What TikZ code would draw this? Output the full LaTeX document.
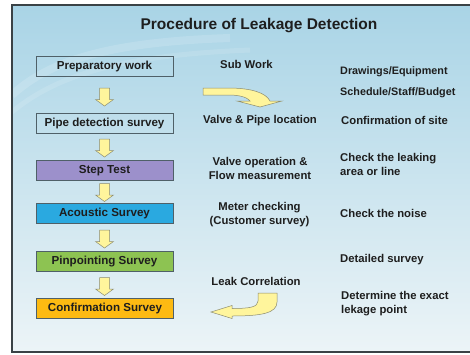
\documentclass[tikz,border=0pt]{standalone}
\usepackage{fontspec}
\setmainfont{Liberation Sans}

\definecolor{framegray}{HTML}{3A4246}
\definecolor{skytop}{HTML}{A9D4E6}
\definecolor{skybot}{HTML}{ECF4F7}
\definecolor{boxline}{HTML}{4F6068}
\definecolor{inktext}{HTML}{1E1E1E}
\definecolor{steppurple}{HTML}{9C90CB}
\definecolor{acousticblue}{HTML}{2AA9E0}
\definecolor{pinpointgreen}{HTML}{8DC352}
\definecolor{confirmorange}{HTML}{FDBA12}
\definecolor{arrowfill}{HTML}{FFF59C}
\definecolor{arrowline}{HTML}{8C8C70}

\tikzset{
  stage/.style={draw=boxline, line width=0.8pt, minimum width=137pt, minimum height=20pt,
    inner sep=0pt, font=\fontsize{11.6}{13}\selectfont\bfseries, text=inktext},
  note/.style={font=\fontsize{11.3}{14}\selectfont\bfseries, text=inktext, inner sep=0pt},
  smallnote/.style={note, font=\fontsize{10.8}{14}\selectfont\bfseries},
  blockarrow/.style={fill=arrowfill, draw=arrowline, line width=0.5pt},
  downblock/.pic={
    \filldraw[blockarrow] (-5,-9) -- (5,-9) -- (5,2.5) -- (9,2.5) -- (0,9) -- (-9,2.5) -- (-5,2.5) -- cycle;
  },
}

\begin{document}
\begin{tikzpicture}[x=1pt, y=-1pt]

\useasboundingbox (0,0) rectangle (470,354);

% background panel
\shade[top color=skytop, bottom color=skybot] (12,5) rectangle (478,352);
\draw[white, opacity=0.15, line width=8pt] (12,95) .. controls (50,60) and (110,42) .. (230,38);
\draw[white, opacity=0.12, line width=5pt] (12,112) .. controls (60,72) and (130,55) .. (250,50);
\draw[framegray, line width=1.5pt] (12,5) rectangle (478,352);

\draw (259, 26) node (title) [font=\fontsize{15.5}{17}\selectfont\bfseries, text=inktext]
  {Procedure of Leakage Detection};

% main steps
\draw (104.5, 66) node (prep) [stage] {Preparatory work};
\draw (104.5, 123.5) node (pipe) [stage] {Pipe detection survey};
\draw (104.5, 170.5) node (steptest) [stage, fill=steppurple] {Step Test};
\draw (104.5, 213.5) node (acoustic) [stage, fill=acousticblue] {Acoustic Survey};
\draw (104.5, 261.5) node (pinpoint) [stage, fill=pinpointgreen] {Pinpointing Survey};
\draw (105, 308) node (confirm) [stage, fill=confirmorange] {Confirmation Survey};

\pic at (104.5, 97) {downblock};
\pic at (104.5, 148) {downblock};
\pic at (104.5, 192.5) {downblock};
\pic at (104.5, 239) {downblock};
\pic at (104.5, 286.5) {downblock};

% sub work
\draw (246.5, 64) node (subwork) [note] {Sub Work};
\draw (260, 121) node (valvepipe) [note] {Valve \& Pipe location};
\draw (260, 168) node (valveflow) [note, align=center] {Valve operation \&\\Flow measurement};
\draw (259.5, 215) node (meter) [note, align=center] {Meter checking\\(Customer survey)};
\draw (256, 281) node (leakcorr) [note] {Leak Correlation};

\filldraw[blockarrow]
  (203,88) -- (228,88) .. controls (252,88) and (266,93) .. (270,101) -- (282,101)
  -- (260,107) -- (237,101) -- (250,101) .. controls (246,96) and (236,95) .. (228,95)
  -- (203,95) -- cycle;

\filldraw[blockarrow]
  (258,293) -- (277,293) -- (277,302) .. controls (277,313) and (262,316) .. (232,316)
  -- (232,318.5) -- (211,312) -- (232,305.5) -- (232,308.5) .. controls (250,308.5) and (258,307) .. (258,301)
  -- cycle;

% details
\draw (340, 72) node (drawings) [smallnote, anchor=west] {Drawings/Equipment};
\draw (340, 93) node (schedule) [smallnote, anchor=west] {Schedule/Staff/Budget};
\draw (341, 120) node (site) [note, anchor=west] {Confirmation of site};
\draw (340, 164) node (leaking) [note, anchor=west, align=left] {Check the leaking\\area or line};
\draw (340, 213) node (noise) [note, anchor=west] {Check the noise};
\draw (340, 260) node (detailed) [note, anchor=west] {Detailed survey};
\draw (341, 303.5) node (exact) [note, anchor=west, align=left] {Determine the exact\\lekage point};

\end{tikzpicture}
\end{document}
